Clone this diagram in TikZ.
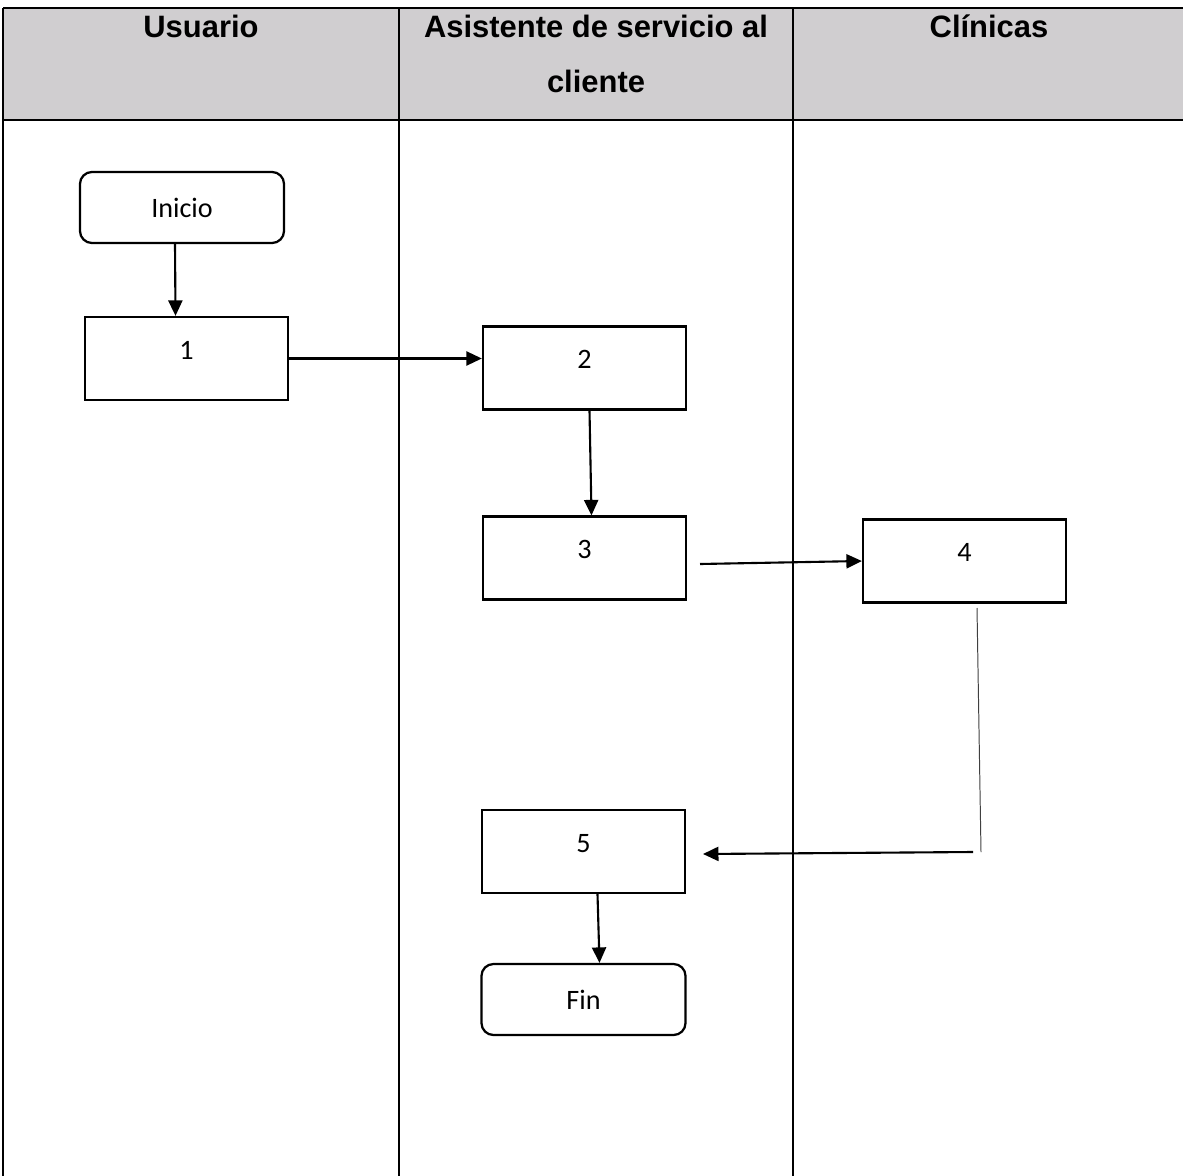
\documentclass[tikz,border=0pt]{standalone}
\usepackage{fontspec}
\setmainfont{Carlito}
\newfontfamily\headfont{Liberation Sans}
\usepackage{tikz}
\usetikzlibrary{calc}
\usetikzlibrary{arrows.meta,positioning}
\definecolor{headgray}{RGB}{208,206,208}

\begin{document}
\begin{tikzpicture}[x=0.025cm, y=-0.025cm, >={Triangle[length=11pt,width=10pt]},
    caja/.style={draw, line width=1.6pt, minimum width=5.075cm, minimum height=2.075cm,
        text height=14pt, text depth=13pt, font=\fontsize{20}{24}\selectfont},
    inicio/.style={draw, line width=1.6pt, rounded corners=0.3cm, minimum width=5.1cm,
        minimum height=1.775cm, font=\fontsize{20}{24}\selectfont},
    cabecera/.style={anchor=base, font=\headfont\bfseries\fontsize{22}{26}\selectfont},
    flecha/.style={line width=1.5pt, ->}]
\useasboundingbox (0,0) rectangle (1183,1176);

% carriles
\fill[headgray] (3,8) rectangle (1190,120);
\draw[line width=1.5pt] (3,8) -- (1190,8) (3,120) -- (1190,120);
\foreach \x in {3,399,793}
    \draw[line width=1.5pt] (\x,8) -- (\x,1180);

\node[cabecera] (usuario) at (201,38) {Usuario};
\node[cabecera] (asistente) at (596,38) {Asistente de servicio al};
\node[cabecera] (cliente) at (596,93) {cliente};
\node[cabecera] (clinicas) at (989,38) {Clínicas};

% pasos
\node[inicio] (ini) at (182,207.5) {Inicio};
\node[caja] (p1) at (186.5,358.5) {1};
\node[caja] (p2) at (584.5,368) {2};
\node[caja] (p3) at (584.5,558) {3};
\node[caja] (p4) at (964.5,561) {4};
\node[caja] (p5) at (583.5,851.5) {5};
\node[inicio] (fin) at (583.5,999.5) {Fin};

\path
    (700,564) coordinate (c3)
    (977,608) coordinate (c4a)
    (981,852) coordinate (c4b)
    (973,852) coordinate (c5a)
    (703,854) coordinate (c5b)
    ;

\draw[flecha] ($(ini.south)+(-7,0)$) -- ($(p1.north)+(-11,0)$);
\draw[flecha] (p1.east) -- (p1.east -| p2.west);
\draw[flecha] ($(p2.south)+(5,0)$) -- ($(p3.north)+(7,0)$);
\draw[flecha] (c3) -- (p4.west);
\draw[line width=0.7pt, black!75] (c4a) -- (c4b);
\draw[flecha] (c5a) -- (c5b);
\draw[flecha] ($(p5.south)+(14,0)$) -- ($(fin.north)+(16,0)$);
\end{tikzpicture}
\end{document}
